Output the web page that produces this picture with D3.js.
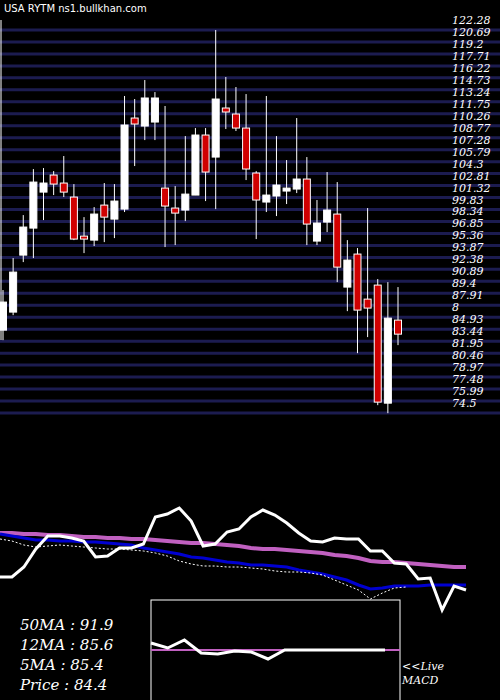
<!DOCTYPE html>
<html>
<head>
<meta charset="utf-8">
<script src="https://cdn.jsdelivr.net/npm/d3@7"></script>
<style>
body { margin: 0; background: #000; }
text { font-family: "DejaVu Serif", "Liberation Serif", serif; font-style: italic; fill: #fff; }
</style>
</head>
<body>
<svg id="chart" width="500" height="700"></svg>
<script>
// daily candles, oldest first
const opens  = [83.59,85.84,92.95,96.32,100.81,102.94,101.94,100.19,95.32,94.82,99.19,97.44,98.69,110.05,109.05,109.55,101.31,98.82,98.57,100.44,107.93,105.18,111.30,110.55,108.80,103.19,99.57,100.32,100.94,101.19,102.44,94.70,97.07,98.07,88.96,93.08,87.46,89.21,74.48,84.84];
const closes = [87.09,90.83,96.45,102.06,101.94,101.81,100.81,94.95,94.95,98.07,97.69,99.69,109.18,109.30,112.55,112.55,99.07,98.19,100.56,107.93,103.31,112.42,110.80,108.80,103.69,99.82,100.44,101.69,101.31,102.44,96.82,96.95,98.57,91.45,92.33,86.09,86.34,74.61,85.09,83.09];
const highs  = [88.59,92.58,97.94,103.68,103.81,103.43,105.31,101.81,97.69,98.94,101.94,101.81,112.80,112.42,114.79,113.29,111.55,101.56,107.80,108.80,108.80,121.03,115.17,113.92,113.04,103.43,112.80,107.80,104.81,110.05,105.18,99.82,103.31,102.06,94.82,93.83,98.82,89.96,89.58,88.96];
const lows   = [82.34,85.46,92.08,92.58,97.32,100.44,100.19,94.82,93.20,94.08,94.57,95.07,98.32,104.06,107.30,107.30,93.95,94.20,97.19,100.44,99.69,98.69,108.68,108.43,102.31,94.95,98.32,97.82,99.32,100.69,94.20,94.20,95.82,89.58,85.96,80.72,82.72,74.23,73.23,81.72];

const tickLabels = ["122.28","120.69","119.2","117.71","116.22","114.73","113.24","111.75","110.26","108.77","107.28","105.79","104.3","102.81","101.32","99.83","98.34","96.85","95.36","93.87","92.38","90.89","89.4","87.91","8","84.93","83.44","81.95","80.46","78.97","77.48","75.99","74.5"];

// lower panel lines (indicator units: 0 = bottom, 100 = top)
const priceLine = [577,577,567,549,536,536,538,541,557,556,548,548,544,517,514,508,521,546,544,532,529,517,510,515,523,533,541,542,538,539,539,551,551,563,564,579,578,610,586,590].map(v => 610 - v);
const ma50 = [533,533,534,534,535,535,536,537,537,538,538,539,539,540,541,542,543,543,544,545,546,548,549,549,550,551,552,553,555,556,558,561,562,562,563,564,565,566,567,567].map(v => 610 - v);
const ma12 = [534,536,538,540,540,541,541,542,542,543,544,545,548,550,552,554,557,558,560,562,563,565,565,566,567,570,572,574,577,580,585,589,588,586,586,586,585,585,585,585].map(v => 610 - v);
const ma5 = [539,541,545,547,546,545,546,547,548,549,549,550,551,553,556,561,564,566,566,567,567,568,569,571,572,572,573,575,580,585,590,599,593,588,587].map(v => 610 - v);

const macd = [57,52,60,47,46,49,48,41,50,50,50,50,50,50,50];
const signal = [50,50];
const legend = ["50MA : 91.9", "12MA : 85.6", "5MA : 85.4", "Price   : 84.4"];

const svg = d3.select("#chart");
svg.append("rect").attr("width", 500).attr("height", 700).attr("fill", "#000");

const x = d3.scaleLinear().domain([0, opens.length - 1]).range([3, 398]);
const y = d3.scaleLinear().domain([74.5, 122.28]).range([403, 20]);
const tickVals = tickLabels.map((t, i) => 122.28 - i * 1.4931);

svg.selectAll(".grid")
    .data(tickVals)
    .enter()
    .append("line")
    .attr("x1", 0).attr("x2", 500)
    .attr("y1", d => y(d) + 10).attr("y2", d => y(d) + 10)
    .attr("stroke", "#1c1c50")
    .attr("stroke-width", 3);

svg.selectAll(".tick")
    .data(tickLabels)
    .enter()
    .append("text")
    .attr("x", 452)
    .attr("y", (d, i) => y(tickVals[i]) + 4)
    .attr("font-size", 11)
    .text(d => d);

svg.append("line")
    .attr("x1", 1).attr("x2", 1).attr("y1", 20).attr("y2", 340)
    .attr("stroke", "#fff").attr("stroke-width", 1);

svg.append("text")
    .attr("x", 4).attr("y", 12)
    .attr("font-size", 10)
    .style("font-style", "normal")
    .style("font-family", "DejaVu Sans")
    .text("USA RYTM ns1.bullkhan.com");

const candles = svg.selectAll(".candle")
    .data(opens.map((o, i) => ({o, c: closes[i], h: highs[i], l: lows[i], i})))
    .enter()
    .append("g")
    .attr("class", "candle");

candles.append("line")
    .attr("x1", d => x(d.i)).attr("x2", d => x(d.i))
    .attr("y1", d => y(d.h)).attr("y2", d => y(d.l))
    .attr("stroke", "#fff").attr("stroke-width", 1);

candles.append("rect")
    .attr("x", d => x(d.i) - 3.5)
    .attr("width", 7)
    .attr("y", d => y(Math.max(d.o, d.c)))
    .attr("height", d => Math.max(2, Math.abs(y(d.o) - y(d.c))))
    .attr("fill", d => d.c < d.o ? "#d00000" : "#fff")
    .attr("stroke", "#fff")
    .attr("stroke-width", 1);

// lower panel
const xl = d3.scaleLinear().domain([0, priceLine.length - 1]).range([0, 466]);
const yl = d3.scaleLinear().domain([0, 110]).range([610, 500]);
const line = d3.line().x((d, i) => xl(i)).y(d => yl(d));

svg.append("path").datum(ma50).attr("d", line)
    .attr("fill", "none").attr("stroke", "#c060c0").attr("stroke-width", 4);
svg.append("path").datum(ma12).attr("d", line)
    .attr("fill", "none").attr("stroke", "#0000d0").attr("stroke-width", 3);
svg.append("path").datum(ma5).attr("d", line)
    .attr("fill", "none").attr("stroke", "#fff").attr("stroke-width", 1).attr("stroke-dasharray", "2,2");
svg.append("path").datum(priceLine).attr("d", line)
    .attr("fill", "none").attr("stroke", "#fff").attr("stroke-width", 3);

// MACD box
svg.append("rect")
    .attr("x", 151).attr("y", 600).attr("width", 249).attr("height", 110)
    .attr("fill", "none").attr("stroke", "#fff").attr("stroke-width", 1);

const xm = d3.scaleLinear().domain([0, macd.length - 1]).range([151, 385]);
const ym = d3.scaleLinear().domain([0, 100]).range([700, 600]);
svg.append("path").datum(signal)
    .attr("d", d3.line().x((d, i) => i ? 400 : 151).y(d => ym(d)))
    .attr("stroke", "#c060c0").attr("stroke-width", 2);
svg.append("path").datum(macd)
    .attr("d", d3.line().x((d, i) => xm(i)).y(d => ym(d)))
    .attr("fill", "none").attr("stroke", "#fff").attr("stroke-width", 3);

svg.selectAll(".legend")
    .data(legend)
    .enter()
    .append("text")
    .attr("x", 20)
    .attr("y", (d, i) => 630 + i * 20)
    .attr("font-size", 15)
    .text(d => d);

svg.append("text").attr("x", 402).attr("y", 670).attr("font-size", 11).text("<<Live");
svg.append("text").attr("x", 402).attr("y", 684).attr("font-size", 11).text("MACD");
</script>
</body>
</html>
